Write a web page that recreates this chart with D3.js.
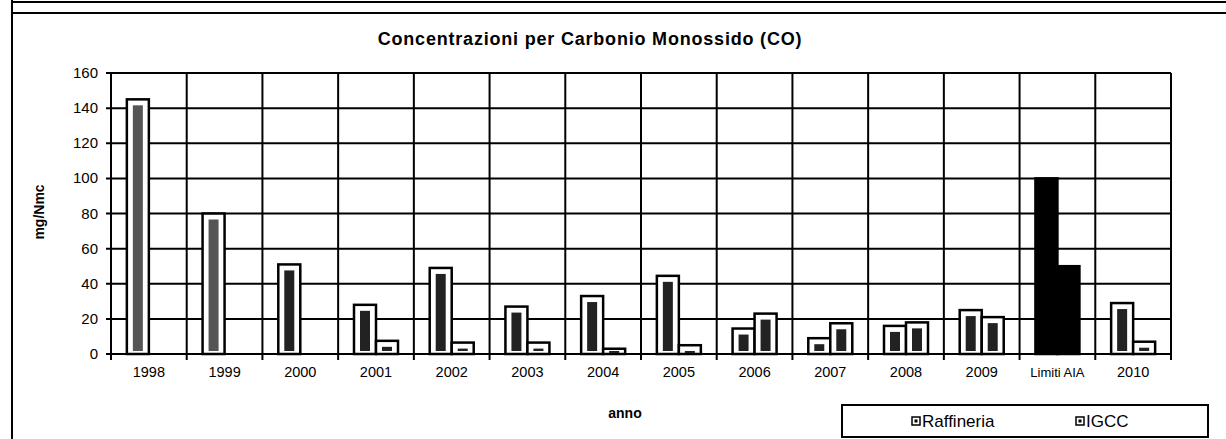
<!DOCTYPE html>
<html>
<head>
<meta charset="utf-8">
<script src="https://cdn.jsdelivr.net/npm/d3@7"></script>
<style>
  body { margin: 0; background: #fff; }
  text { font-family: "Liberation Sans", Arial, sans-serif; fill: #000; }
</style>
</head>
<body>
<div id="chart"></div>
<script>
// values (mg/Nmc)
var categories = ["1998", "1999", "2000", "2001", "2002", "2003", "2004", "2005",
                  "2006", "2007", "2008", "2009", "Limiti AIA", "2010"];
var raffineria = [145, 80, 51, 28, 49, 27, 33, 44.5, 14.5, 9, 16, 25, 100, 29];
var igcc       = [null, null, null, 7.5, 6.5, 6.5, 3, 5, 23, 17.5, 18, 21, 50, 7];
var yTicks     = [0, 20, 40, 60, 80, 100, 120, 140, 160];
var seriesNames = ["Raffineria", "IGCC"];

var width = 1226,
    height = 439;

var svg = d3.select("#chart").append("svg")
    .attr("width", width)
    .attr("height", height);

// outer frame of the scanned page
svg.append("line").attr("x1", 12).attr("x2", width).attr("y1", 2).attr("y2", 2)
    .attr("stroke", "#000").attr("stroke-width", 2);
svg.append("line").attr("x1", 12).attr("x2", width).attr("y1", 13).attr("y2", 13)
    .attr("stroke", "#000").attr("stroke-width", 2);
svg.append("line").attr("x1", 12).attr("x2", 12).attr("y1", 0).attr("y2", height)
    .attr("stroke", "#000").attr("stroke-width", 2);

var plot = { left: 111, right: 1171, top: 73, bottom: 354 };

var x = d3.scaleBand()
    .domain(categories)
    .range([plot.left, plot.right]);

var bw = x.bandwidth();
var x1 = d3.scaleBand()
    .domain(seriesNames)
    .range([bw / 2 - 22, bw / 2 + 22]);

var y = d3.scaleLinear()
    .domain([0, 160])
    .range([plot.bottom, plot.top]);

// horizontal gridlines
svg.append("g").selectAll("line")
    .data(yTicks)
  .enter().append("line")
    .attr("x1", plot.left - 5)
    .attr("x2", plot.right)
    .attr("y1", function(d) { return y(d); })
    .attr("y2", function(d) { return y(d); })
    .attr("stroke", "#000")
    .attr("stroke-width", 2);

// vertical lines at category edges (with tick below axis)
var edges = categories.map(function(c) { return x(c); }).concat([plot.right]);
svg.append("g").selectAll("line")
    .data(edges)
  .enter().append("line")
    .attr("x1", function(d) { return d; })
    .attr("x2", function(d) { return d; })
    .attr("y1", plot.top)
    .attr("y2", plot.bottom + 6)
    .attr("stroke", "#000")
    .attr("stroke-width", 2);

// y tick labels
svg.append("g").selectAll("text")
    .data(yTicks)
  .enter().append("text")
    .attr("x", 98)
    .attr("y", function(d) { return y(d) + 5; })
    .attr("text-anchor", "end")
    .style("font-size", "15px")
    .text(function(d) { return d; });

// x tick labels
svg.append("g").selectAll("text")
    .data(categories)
  .enter().append("text")
    .attr("x", function(d) { return x(d) + bw / 2; })
    .attr("y", 377)
    .attr("text-anchor", "middle")
    .style("font-size", function(d) { return d.length > 4 ? "13px" : "14.5px"; })
    .text(function(d) { return d; });

// bars
var rows = categories.map(function(c, i) {
  return { cat: c, values: [
    { name: "Raffineria", v: raffineria[i] },
    { name: "IGCC", v: igcc[i] }
  ] };
});

var group = svg.append("g").selectAll("g")
    .data(rows)
  .enter().append("g")
    .attr("transform", function(d) { return "translate(" + x(d.cat) + ",0)"; });

var bar = group.selectAll("g")
    .data(function(d) {
      return d.values.filter(function(v) { return v.v != null; })
        .map(function(v) { v.cat = d.cat; return v; });
    })
  .enter().append("g");

bar.append("rect")
    .attr("x", function(d) { return x1(d.name); })
    .attr("y", function(d) { return y(d.v); })
    .attr("width", x1.bandwidth())
    .attr("height", function(d) { return y(0) - y(d.v); })
    .attr("fill", function(d) { return d.cat === "Limiti AIA" ? "#000" : "#fff"; })
    .attr("stroke", "#000")
    .attr("stroke-width", 2.5);

// dark inner stripe of the patterned fill
bar.filter(function(d) { return d.cat !== "Limiti AIA"; })
  .append("rect")
    .attr("x", function(d) { return x1(d.name) + 6; })
    .attr("y", function(d) { return Math.min(y(d.v) + 6, y(0) - 3); })
    .attr("width", x1.bandwidth() - 12)
    .attr("height", function(d) { return Math.max(y(0) - y(d.v) - 9, 2); })
    .attr("fill", function(d) { return d.cat < "2000" ? "#555" : "#222"; });

// title
svg.append("text")
    .attr("x", 590)
    .attr("y", 45)
    .attr("text-anchor", "middle")
    .style("font-size", "18px")
    .style("font-weight", "bold")
    .style("letter-spacing", "0.8px")
    .text("Concentrazioni per Carbonio Monossido (CO)");

// axis titles
svg.append("text")
    .attr("transform", "translate(44,212) rotate(-90)")
    .attr("text-anchor", "middle")
    .style("font-size", "14px")
    .style("font-weight", "bold")
    .text("mg/Nmc");

svg.append("text")
    .attr("x", 625)
    .attr("y", 418)
    .attr("text-anchor", "middle")
    .style("font-size", "14px")
    .style("font-weight", "bold")
    .text("anno");

// legend
svg.append("rect")
    .attr("x", 842).attr("y", 405)
    .attr("width", 366).attr("height", 32)
    .attr("fill", "#fff")
    .attr("stroke", "#000")
    .attr("stroke-width", 2);

var legendX = [912, 1076];
var legend = svg.append("g").selectAll("g")
    .data(seriesNames)
  .enter().append("g")
    .attr("transform", function(d, i) { return "translate(" + legendX[i] + ",421)"; });

legend.append("rect")
    .attr("x", 0).attr("y", -4)
    .attr("width", 8).attr("height", 8)
    .attr("fill", "#fff")
    .attr("stroke", "#000")
    .attr("stroke-width", 1.5);
legend.append("rect")
    .attr("x", 2.5).attr("y", -1.5)
    .attr("width", 3).attr("height", 3)
    .attr("fill", "#000");
legend.append("text")
    .attr("x", 10)
    .attr("y", 6)
    .style("font-size", "17px")
    .text(function(d) { return d; });
</script>
</body>
</html>
